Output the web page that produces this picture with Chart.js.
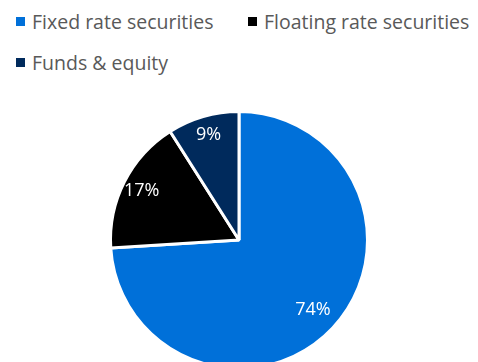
<!DOCTYPE html>
<html>
<head>
<meta charset="utf-8">
<script src="https://cdn.jsdelivr.net/npm/chart.js@4.4.1/dist/chart.umd.min.js"></script>
<style>
  html, body { margin: 0; padding: 0; background: #fff; overflow: hidden; }
  body { width: 478px; height: 362px; position: relative; font-family: "Open Sans", sans-serif; }
  #legend { position: absolute; left: 16px; top: 1px; width: 470px; display: flex; flex-wrap: wrap; }
  .item { width: 232px; height: 41px; display: flex; align-items: center; color: #595959; font-size: 19.5px; white-space: nowrap; }
  .box { width: 9px; height: 9px; margin-right: 7px; flex-shrink: 0; }
  #wrap { position: absolute; left: 0; top: 110px; width: 478px; height: 260px; }
</style>
</head>
<body>
<div id="legend"></div>
<div id="wrap"><canvas id="pie"></canvas></div>
<script>
const categories = ["Fixed rate securities", "Floating rate securities", "Funds & equity"];
const shares = [74, 17, 9];
const colors = ["#0070d9", "#000000", "#002a5c"];

// legend built from the same arrays
const legend = document.getElementById("legend");
categories.forEach((name, i) => {
  const item = document.createElement("div");
  item.className = "item";
  item.innerHTML = `<span class="box" style="background:${colors[i]}"></span><span>${name}</span>`;
  legend.appendChild(item);
});

// percentage labels inside the slices
const sliceLabels = {
  id: "sliceLabels",
  afterDatasetsDraw(chart) {
    const ctx = chart.ctx;
    const meta = chart.getDatasetMeta(0);
    ctx.save();
    ctx.fillStyle = "#ffffff";
    ctx.font = '18px "Open Sans", sans-serif';
    ctx.textAlign = "center";
    ctx.textBaseline = "middle";
    meta.data.forEach((arc, i) => {
      const mid = (arc.startAngle + arc.endAngle) / 2;
      const r = arc.outerRadius * (i === 0 ? 0.79 : 0.85);
      ctx.fillText(shares[i] + "%", arc.x + Math.cos(mid) * r, arc.y + Math.sin(mid) * r);
    });
    ctx.restore();
  }
};

new Chart(document.getElementById("pie"), {
  type: "pie",
  data: {
    labels: categories,
    datasets: [{
      data: shares,
      backgroundColor: colors,
      borderColor: "#ffffff",
      borderWidth: 3
    }]
  },
  options: {
    responsive: true,
    maintainAspectRatio: false,
    animation: false,
    layout: { padding: 0 },
    plugins: {
      legend: { display: false },
      tooltip: { enabled: false }
    }
  },
  plugins: [sliceLabels]
});
</script>
</body>
</html>
